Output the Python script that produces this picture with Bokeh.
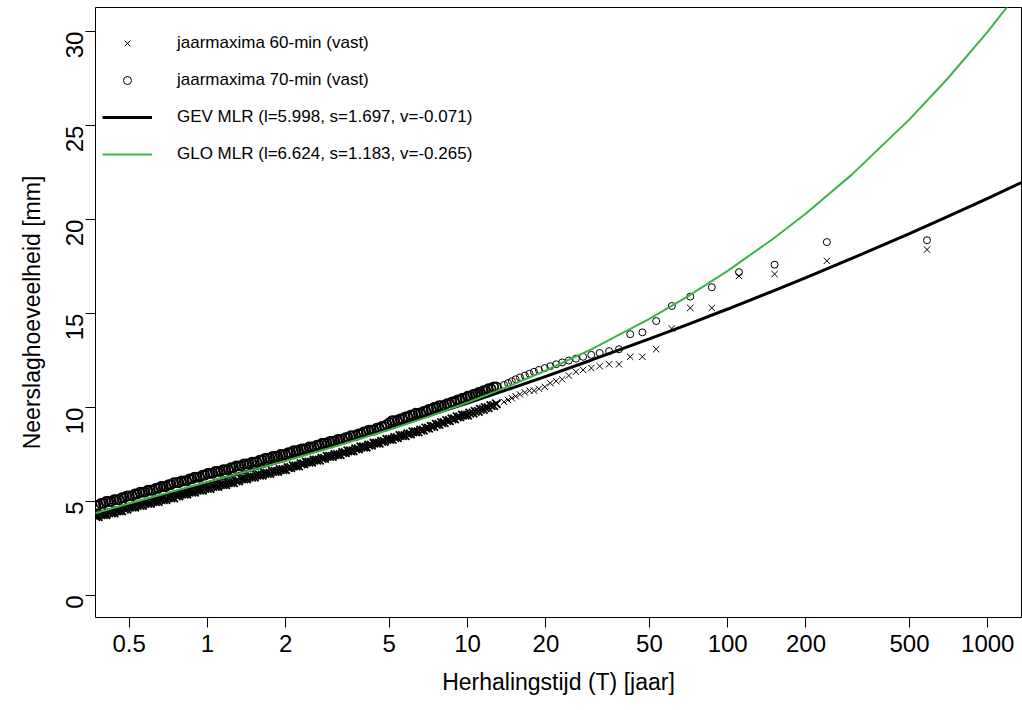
import math
from bokeh.plotting import figure
from bokeh.models import Range1d, FixedTicker, CustomJSTickFormatter, Legend, LegendItem
from bokeh.embed import file_html
from bokeh.resources import INLINE

# ---- data ----
# dense part of the sample (return period T in years, values in mm)
T_band = [0.372, 0.380, 0.389, 0.398, 0.407, 0.417, 0.427, 0.437, 0.447, 0.457,
          0.468, 0.479, 0.490, 0.501, 0.513, 0.525, 0.537, 0.550, 0.562, 0.575,
          0.589, 0.603, 0.617, 0.631, 0.646, 0.661, 0.676, 0.692, 0.708, 0.724,
          0.741, 0.759, 0.776, 0.794, 0.813, 0.832, 0.851, 0.871, 0.891, 0.912,
          0.933, 0.955, 0.977,
          1.000, 1.023, 1.047, 1.072, 1.096, 1.122, 1.148, 1.175, 1.202, 1.230,
          1.259, 1.288, 1.318, 1.349, 1.380, 1.413, 1.445, 1.479, 1.514, 1.549,
          1.585, 1.622, 1.660, 1.698, 1.738, 1.778, 1.820, 1.862, 1.905, 1.950,
          1.995, 2.042, 2.089, 2.138, 2.188, 2.239, 2.291, 2.344, 2.399, 2.455,
          2.512, 2.570, 2.630, 2.692, 2.754, 2.818, 2.884, 2.951, 3.020, 3.090,
          3.162, 3.236, 3.311, 3.388, 3.467, 3.548, 3.631, 3.715, 3.802, 3.890,
          3.981, 4.074, 4.169, 4.266, 4.365, 4.467, 4.571, 4.677, 4.786, 4.898,
          5.012, 5.129, 5.248, 5.370, 5.495, 5.623, 5.754, 5.888, 6.026, 6.166,
          6.310, 6.457, 6.607, 6.761, 6.918, 7.079, 7.244, 7.413, 7.586, 7.762,
          7.943, 8.128, 8.318, 8.511, 8.710, 8.913, 9.120, 9.333, 9.550, 9.772,
          10.0, 10.2, 10.5, 10.7, 11.0, 11.2, 11.5, 11.7, 12.0, 12.3, 12.6, 12.9]
v70_band = [4.8, 4.8, 4.9, 4.9, 5.0, 5.0, 5.0, 5.1, 5.1, 5.1,
            5.2, 5.2, 5.3, 5.3, 5.3, 5.4, 5.4, 5.5, 5.5, 5.5,
            5.6, 5.6, 5.6, 5.7, 5.7, 5.8, 5.8, 5.8, 5.9, 5.9,
            6.0, 6.0, 6.0, 6.1, 6.1, 6.1, 6.2, 6.2, 6.3, 6.3,
            6.3, 6.4, 6.4,
            6.5, 6.5, 6.5, 6.6, 6.6, 6.6, 6.7, 6.7, 6.7, 6.8,
            6.8, 6.9, 6.9, 6.9, 7.0, 7.0, 7.0, 7.1, 7.1, 7.1,
            7.2, 7.2, 7.3, 7.3, 7.3, 7.4, 7.4, 7.4, 7.5, 7.5,
            7.5, 7.6, 7.6, 7.7, 7.7, 7.7, 7.8, 7.8, 7.8, 7.9,
            7.9, 7.9, 8.0, 8.0, 8.1, 8.1, 8.1, 8.2, 8.2, 8.2,
            8.3, 8.3, 8.3, 8.4, 8.4, 8.5, 8.5, 8.5, 8.6, 8.6,
            8.7, 8.7, 8.8, 8.8, 8.8, 8.9, 8.9, 9.0, 9.0, 9.1,
            9.2, 9.3, 9.3, 9.3, 9.4, 9.4, 9.5, 9.5, 9.6, 9.6,
            9.7, 9.7, 9.7, 9.8, 9.8, 9.9, 9.9, 10.0, 10.0, 10.1,
            10.1, 10.1, 10.2, 10.2, 10.3, 10.3, 10.4, 10.4, 10.5, 10.5,
            10.6, 10.6, 10.7, 10.7, 10.8, 10.8, 10.9, 10.9, 11.0, 11.0, 11.1, 11.1]
v60_band = [4.2, 4.2, 4.3, 4.3, 4.3, 4.4, 4.4, 4.4, 4.5, 4.5,
            4.5, 4.6, 4.6, 4.7, 4.7, 4.7, 4.8, 4.8, 4.8, 4.9,
            4.9, 4.9, 5.0, 5.0, 5.0, 5.1, 5.1, 5.1, 5.2, 5.2,
            5.2, 5.3, 5.3, 5.4, 5.4, 5.4, 5.5, 5.5, 5.5, 5.6,
            5.6, 5.6, 5.7,
            5.7, 5.7, 5.8, 5.8, 5.8, 5.9, 5.9, 5.9, 6.0, 6.0,
            6.0, 6.1, 6.1, 6.2, 6.2, 6.2, 6.3, 6.3, 6.3, 6.4,
            6.4, 6.4, 6.5, 6.5, 6.5, 6.6, 6.6, 6.6, 6.7, 6.7,
            6.7, 6.8, 6.8, 6.9, 6.9, 6.9, 7.0, 7.0, 7.1, 7.1,
            7.1, 7.2, 7.2, 7.2, 7.3, 7.3, 7.4, 7.4, 7.4, 7.5,
            7.5, 7.5, 7.6, 7.6, 7.7, 7.7, 7.7, 7.8, 7.8, 7.9,
            7.9, 7.9, 8.0, 8.0, 8.1, 8.1, 8.1, 8.2, 8.2, 8.3,
            8.3, 8.3, 8.4, 8.4, 8.5, 8.5, 8.5, 8.6, 8.6, 8.7,
            8.7, 8.7, 8.8, 8.8, 8.9, 8.9, 9.0, 9.0, 9.1, 9.1,
            9.2, 9.2, 9.3, 9.3, 9.4, 9.4, 9.5, 9.5, 9.6, 9.6,
            9.6, 9.7, 9.7, 9.8, 9.8, 9.9, 9.9, 10.0, 10.0, 10.1, 10.1, 10.2]
# largest annual maxima (separate markers)
T_top = [13.8, 14.3, 14.8, 15.3, 15.9, 16.6, 17.3, 18.0, 18.8, 19.8, 20.8, 21.9, 23.1, 24.5,
         26.1, 27.8, 29.9, 32.2, 35.0, 38.2, 42.2, 47.0, 53.1, 61.0, 71.8, 86.9, 110.5, 151.5,
         240.6, 584.0]
v70_top = [11.2, 11.3, 11.4, 11.5, 11.6, 11.7, 11.8, 11.9, 12.0, 12.1, 12.2, 12.3, 12.4, 12.5,
           12.6, 12.7, 12.8, 12.9, 13.0, 13.1, 13.9, 14.0, 14.6, 15.4, 15.9, 16.4, 17.2, 17.6,
           18.8, 18.9]
v60_top = [10.3, 10.4, 10.5, 10.6, 10.7, 10.8, 10.9, 10.9, 11.0, 11.1, 11.3, 11.4, 11.5, 11.7,
           11.9, 12.0, 12.1, 12.2, 12.3, 12.3, 12.7, 12.7, 13.1, 14.2, 15.3, 15.3, 17.0, 17.1,
           17.8, 18.4]
# fitted curves
T_curve = [0.37, 0.5, 0.7, 1, 1.5, 2, 3, 5, 7, 10, 15, 20, 30, 50, 70, 100, 150, 200, 300,
           500, 700, 1000, 1350]
gev_curve = [4.37, 4.85, 5.40, 6.00, 6.70, 7.20, 7.94, 8.89, 9.54, 10.24, 11.06, 11.66, 12.53,
             13.65, 14.41, 15.24, 16.21, 16.91, 17.93, 19.25, 20.15, 21.13, 21.97]
glo_curve = [4.38, 4.89, 5.45, 6.03, 6.69, 7.17, 7.87, 8.82, 9.49, 10.27, 11.23, 11.97, 13.11,
             14.71, 15.90, 17.27, 18.99, 20.32, 22.39, 25.33, 27.49, 30.0, 32.3]

x_ticks = [0.5, 1, 2, 5, 10, 20, 50, 100, 200, 500, 1000]
y_ticks = [0, 5, 10, 15, 20, 25, 30]
labels = ["jaarmaxima 60-min (vast)", "jaarmaxima 70-min (vast)",
          "GEV MLR (l=5.998, s=1.697, v=-0.071)", "GLO MLR (l=6.624, s=1.183, v=-0.265)"]

FONT = "Liberation Sans"
GREEN = "#3fb24a"

p = figure(width=1022, height=710, x_axis_type="log",
           x_range=Range1d(0.371, 1348), y_range=Range1d(-1.17, 31.28),
           output_backend="svg", toolbar_location=None,
           min_border_left=95, min_border_right=1, min_border_top=7, min_border_bottom=93)
p.background_fill_color = "white"
p.border_fill_color = "white"
p.outline_line_color = "black"
p.outline_line_width = 1
p.xgrid.visible = False
p.ygrid.visible = False

# dense band: many overlapping markers
p.scatter(T_band, v60_band, marker="x", size=12, line_color="black", line_width=1.8)
p.scatter(T_band, v70_band, marker="circle", size=9, fill_color=None,
          line_color="black", line_width=1.8)
# separate largest values
r60 = p.scatter(T_top, v60_top, marker="x", size=9, line_color="black", line_width=1)
r70 = p.scatter(T_top, v70_top, marker="circle", size=7, fill_color=None,
                line_color="black", line_width=1)
rgev = p.line(T_curve, gev_curve, line_color="black", line_width=3)
rglo = p.line(T_curve, glo_curve, line_color=GREEN, line_width=2)

for ax in (p.xaxis[0], p.yaxis[0]):
    ax.axis_line_color = None
    ax.major_tick_line_color = "black"
    ax.major_tick_out = 10
    ax.major_tick_in = 0
    ax.minor_tick_line_color = None
    ax.major_label_text_font = FONT
    ax.major_label_text_font_size = "24px"
    ax.major_label_text_color = "black"
    ax.axis_label_text_font = FONT
    ax.axis_label_text_font_size = "23px"
    ax.axis_label_text_font_style = "normal"
    ax.axis_label_text_color = "black"

p.xaxis.ticker = FixedTicker(ticks=x_ticks)
p.xaxis.formatter = CustomJSTickFormatter(code="return String(tick);")
p.xaxis.major_label_standoff = 7
p.xaxis.axis_label = "Herhalingstijd (T) [jaar]"
p.xaxis.axis_label_standoff = 14

p.yaxis.ticker = FixedTicker(ticks=y_ticks)
p.yaxis.major_label_orientation = math.pi / 2
p.yaxis.major_label_standoff = 11
p.yaxis.axis_label = "Neerslaghoeveelheid [mm]"
p.yaxis.axis_label_standoff = 10

legend = Legend(items=[LegendItem(label=labels[0], renderers=[r60]),
                       LegendItem(label=labels[1], renderers=[r70]),
                       LegendItem(label=labels[2], renderers=[rgev]),
                       LegendItem(label=labels[3], renderers=[rglo])],
                location=(7, 453))
legend.border_line_color = None
legend.background_fill_alpha = 0
legend.label_text_font = FONT
legend.label_text_font_size = "17px"
legend.label_text_color = "black"
legend.glyph_width = 50
legend.glyph_height = 20
legend.label_height = 20
legend.spacing = 17
legend.padding = 7
legend.margin = 0
legend.label_standoff = 25
p.add_layout(legend)

open("out.html", "w").write(file_html(p, INLINE))
